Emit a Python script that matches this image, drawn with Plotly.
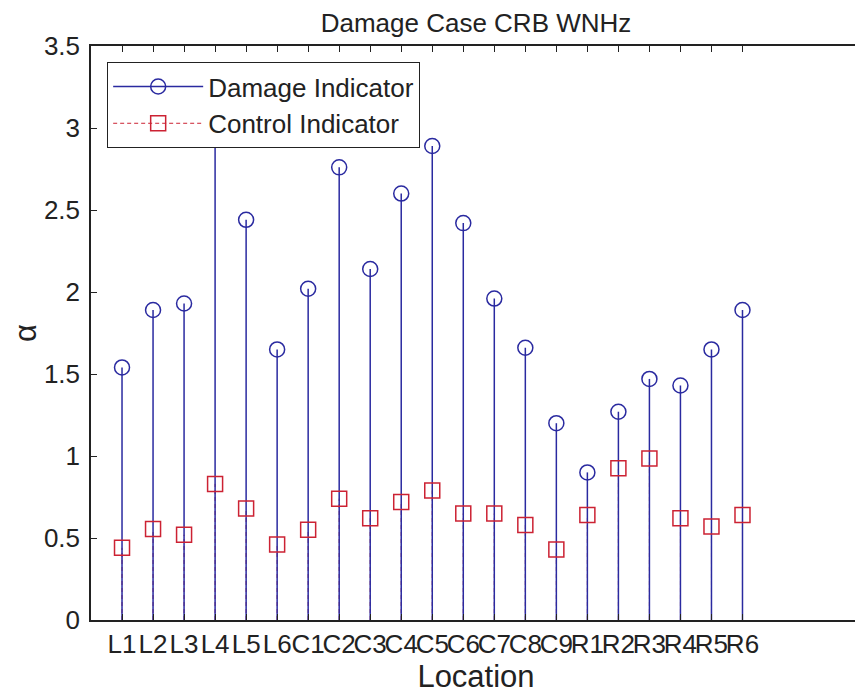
import plotly.graph_objects as go

locations = ["L1", "L2", "L3", "L4", "L5", "L6",
             "C1", "C2", "C3", "C4", "C5", "C6", "C7", "C8", "C9",
             "R1", "R2", "R3", "R4", "R5", "R6"]
positions = list(range(1, len(locations) + 1))
damage = [1.54, 1.89, 1.93, 3.20, 2.44, 1.65, 2.02, 2.76, 2.14, 2.60, 2.89,
          2.42, 1.96, 1.66, 1.20, 0.90, 1.27, 1.47, 1.43, 1.65, 1.89]
control = [0.44, 0.555, 0.52, 0.83, 0.68, 0.46, 0.55, 0.74, 0.62, 0.72, 0.79,
           0.65, 0.65, 0.58, 0.43, 0.64, 0.925, 0.985, 0.62, 0.57, 0.64]
y_ticks = [0, 0.5, 1, 1.5, 2, 2.5, 3, 3.5]

BLUE = "#2a2aa0"
RED = "#cc2233"
AX = "#222222"
FONT = "Liberation Sans, Arial, sans-serif"

W, H = 855, 686


def stem_xy(xs, ys):
    sx, sy = [], []
    for x, y in zip(xs, ys):
        sx += [x, x, None]
        sy += [0, y, None]
    return sx, sy


fig = go.Figure()

cx, cy = stem_xy(positions, control)
fig.add_trace(go.Scatter(x=cx, y=cy, mode="lines", showlegend=False,
                         line=dict(color=RED, width=1, dash="4px,3px"),
                         hoverinfo="skip"))
dx, dy = stem_xy(positions, damage)
fig.add_trace(go.Scatter(x=dx, y=dy, mode="lines", showlegend=False,
                         line=dict(color=BLUE, width=1.5), hoverinfo="skip"))

fig.add_trace(go.Scatter(x=positions, y=damage, mode="markers", showlegend=False,
                         marker=dict(symbol="circle-open", size=15,
                                     color=BLUE, line=dict(width=1.5))))
fig.add_trace(go.Scatter(x=positions, y=control, mode="markers", showlegend=False,
                         marker=dict(symbol="square-open", size=15,
                                     color=RED, line=dict(width=1.5))))

# legend entries
fig.add_trace(go.Scatter(x=[None], y=[None], mode="lines+markers",
                         name="Damage Indicator",
                         line=dict(color=BLUE, width=1.5),
                         marker=dict(symbol="circle-open", size=15, color=BLUE,
                                     line=dict(width=1.5))))
fig.add_trace(go.Scatter(x=[None], y=[None], mode="lines+markers",
                         name="Control Indicator",
                         line=dict(color=RED, width=1, dash="4px,3px"),
                         marker=dict(symbol="square-open", size=15, color=RED,
                                     line=dict(width=1.5))))

fig.update_layout(
    width=W, height=H,
    margin=dict(l=83, r=2, t=38, b=74),
    paper_bgcolor="white", plot_bgcolor="white",
    font=dict(family=FONT, size=26, color=AX),
    title=dict(text="Damage Case CRB WNHz", x=0.5, xref="paper",
               y=1 - 15 / H, yref="container", yanchor="middle",
               font=dict(size=26, color=AX)),
    legend=dict(x=0.021, y=0.972, xanchor="left", yanchor="top",
                bgcolor="white", bordercolor=AX, borderwidth=1,
                font=dict(size=26), tracegroupgap=0, itemwidth=90),
    showlegend=True,
)
fig.update_xaxes(range=[0, 24.82], tickmode="array", tickvals=positions,
                 ticktext=locations, tickangle=0,
                 ticks="inside", ticklen=6, tickcolor=AX,
                 showline=True, linecolor=AX, linewidth=1.5,
                 mirror="ticks", showgrid=False, zeroline=False,
                 title=dict(text="Location", standoff=8),
                 automargin=False)
fig.update_yaxes(range=[0, 3.5], tickmode="array", tickvals=y_ticks,
                 ticks="inside", ticklen=6, tickcolor=AX,
                 showline=True, linecolor=AX, linewidth=1.5,
                 mirror="ticks", showgrid=False, zeroline=False,
                 ticklabelstandoff=4,
                 title=dict(text="α", standoff=12),
                 automargin=False)

fig.write_html("out.html")
